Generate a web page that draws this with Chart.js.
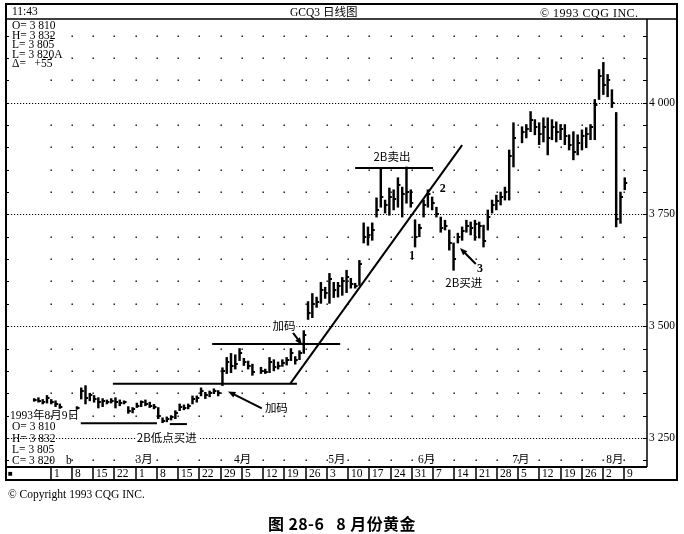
<!DOCTYPE html>
<html lang="zh-CN">
<head>
<meta charset="utf-8">
<title>GCQ3 日线图</title>
<script src="https://cdn.jsdelivr.net/npm/chart.js@4.4.1/dist/chart.umd.min.js"></script>
<style>
  body { margin: 0; background: #fff; }
  #wrap { position: relative; width: 684px; height: 534px; overflow: hidden; }
  #c { position: absolute; left: 0; top: 0; }
  .t { position: absolute; font-family: "Liberation Serif", "Noto Sans CJK SC", serif; color: #000; line-height: 1; white-space: pre; }
  .cn { font-family: "Noto Sans CJK SC", sans-serif; }
</style>
</head>
<body>
<div id="wrap">
  <canvas id="c" width="684" height="534"></canvas>

  <div class="t" style="left:12px;top:6px;font-size:11.5px">11:43</div>
  <div class="t" style="left:290px;top:6px;font-size:11.5px">GCQ3 <span class="cn">日线图</span></div>
  <div class="t" style="left:540px;top:7px;font-size:12px;letter-spacing:0.5px">© 1993 CQG INC.</div>

  <div class="t" style="left:12px;top:20px;font-size:11.5px">O= 3 810</div>
  <div class="t" style="left:12px;top:29.5px;font-size:11.5px">H= 3 832</div>
  <div class="t" style="left:12px;top:39px;font-size:11.5px">L= 3 805</div>
  <div class="t" style="left:12px;top:48.5px;font-size:11.5px">L= 3 820A</div>
  <div class="t" style="left:12px;top:58px;font-size:11.5px">Δ=   +55</div>

  <div class="t" style="left:10px;top:409px;font-size:11.5px">1993<span class="cn">年</span>8<span class="cn">月</span>9<span class="cn">日</span></div>
  <div class="t" style="left:12px;top:421px;font-size:11.5px">O= 3 810</div>
  <div class="t" style="left:12px;top:433px;font-size:11.5px">H= 3 832</div>
  <div class="t" style="left:12px;top:444px;font-size:11.5px">L= 3 805</div>
  <div class="t" style="left:12px;top:455px;font-size:11.5px">C= 3 820</div>
  <div class="t" style="left:66px;top:455px;font-size:11.5px">b</div>
  <div class="t" style="left:8px;top:470px;font-size:8px">■</div>

  <div class="t" style="left:8px;top:489px;font-size:11.5px">© Copyright 1993 CQG INC.</div>
  <div class="t cn" style="left:268px;top:515px;font-size:16px;font-weight:600;letter-spacing:0.4px">图 28-6   8 月份黄金</div>
</div>

<script>
// 交易日序号: 1993-02-01(星期一) = 0, 每周 5 格
const firstDay = -3;

const highs = [
  3338, 3340, 3336,
  3345, 3336, 3333, 3326, null,
  null, null, 3320, 3362, 3367,
  3350, 3345, 3340, 3338, 3335,
  3338, 3340, 3335, 3333, 3320,
  3318, 3328, 3333, 3335, 3330,
  3325, 3318, 3295, 3297, 3300,
  3311, 3326, 3324, 3326, 3344,
  3344, 3362, 3352, 3355, 3360,
  3356, 3407, 3430, 3439, 3436,
  3450, 3428, 3422, 3415, null,
  3408, 3404, 3430, 3425, 3420,
  3425, 3430, 3450, 3432, 3445,
  3490, 3555, 3573, 3565, 3598,
  3587, 3618, 3598, 3598, 3609,
  3625, 3607, 3596, 3647, 3731,
  3722, 3731, 3787, 3854, 3782,
  3809, 3805, 3832, 3811, 3856,
  3805, 3738, 3728, 3782, 3805,
  3789, 3766, 3744, 3737, 3715,
  3686, 3708, 3722, 3737, 3733,
  3737, 3733, 3726, 3760, 3782,
  3793, 3800, 3811, 3894, 3955,
  null, 3946, 3951, 3980, 3962,
  3955, 3966, 3966, 3962, 3957,
  3951, 3951, 3928, 3935, 3928,
  3939, 3944, 3951, 4007, 4074,
  4090, 4063, 4029, 3978, 3800,
  3832
];

const lows = [
  3332, 3330, 3326,
  3328, 3326, 3320, 3316, null,
  null, null, 3314, 3337, 3326,
  3333, 3330, 3317, 3320, 3326,
  3328, 3317, 3322, 3326, 3305,
  3306, 3318, 3320, 3322, 3318,
  3315, 3293, 3284, 3286, 3290,
  3293, 3311, 3313, 3315, 3326,
  3330, 3344, 3338, 3342, 3349,
  3344, 3367, 3394, 3396, 3404,
  3423, 3412, 3404, 3390, null,
  3394, 3394, 3396, 3400, 3404,
  3410, 3413, 3423, 3415, 3425,
  3439, 3515, 3519, 3542, 3551,
  3562, 3551, 3564, 3565, 3569,
  3575, 3585, 3585, 3591, 3686,
  3681, 3692, 3744, 3766, 3753,
  3748, 3760, 3766, 3744, 3775,
  3766, 3677, 3700, 3744, 3766,
  3760, 3744, 3710, 3715, 3670,
  3625, 3686, 3692, 3710, 3704,
  3692, 3697, 3677, 3715, 3753,
  3760, 3771, 3782, 3782, 3856,
  null, 3910, 3921, 3935, 3928,
  3906, 3912, 3883, 3917, 3912,
  3917, 3906, 3894, 3872, 3883,
  3894, 3899, 3917, 3917, 4007,
  4018, 4013, 3989, 3722, 3730,
  3805
];

const closes = [
  3335, 3333, 3330,
  3340, 3330, 3325, 3320, null,
  null, null, 3317, 3355, 3340,
  3345, 3338, 3330, 3332, 3330,
  3333, 3330, 3328, 3330, 3310,
  3314, 3322, 3330, 3326, 3322,
  3320, 3298, 3288, 3292, 3296,
  3306, 3320, 3318, 3322, 3338,
  3340, 3355, 3345, 3350, 3355,
  3350, 3400, 3420, 3410, 3415,
  3440, 3420, 3410, 3398, null,
  3400, 3398, 3420, 3408, 3412,
  3418, 3425, 3440, 3425, 3440,
  3480, 3530, 3550, 3555, 3580,
  3575, 3605, 3580, 3590, 3600,
  3610, 3595, 3590, 3640, 3700,
  3705, 3715, 3760, 3790, 3770,
  3790, 3785, 3815, 3795, 3800,
  3775, 3700, 3720, 3770, 3795,
  3775, 3750, 3720, 3725, 3685,
  3650, 3700, 3712, 3725, 3720,
  3728, 3725, 3690, 3745, 3770,
  3780, 3790, 3800, 3880, 3920,
  null, 3935, 3940, 3960, 3945,
  3930, 3945, 3920, 3945, 3935,
  3940, 3925, 3905, 3890, 3910,
  3925, 3930, 3945, 3995, 4060,
  4040, 4050, 4000, 3740, 3790,
  3820
];

// 底部日期栏与月份
const weekLabels = ['1','8','15','22','1','8','15','22','29','5','12','19','26','3','10','17','24','31','7','14','21','28','5','12','19','26','2','9'];
const monthLabels = ['3月','4月','5月','6月','7月','8月'];
const monthStartDay = [20, 43, 65, 86, 108, 130];
const priceTicks = [3250, 3500, 3750, 4000];

// 手画的水平线和趋势线 [交易日, 价格]
const drawnLines = [
  [[7.9, 3283], [25.7, 3283]],
  [[28.7, 3281], [32.7, 3281]],
  [[15.4, 3371], [58.4, 3371]],
  [[38.6, 3460], [68.5, 3460]],
  [[72, 3854], [90.2, 3854]],
  [[56.8, 3371], [97, 3905]]
];
// 箭头 [尾, 头]
const arrows = [
  [[50.2, 3316], [42.3, 3354]],
  [[57.5, 3485], [59.6, 3458]],
  [[100.2, 3639], [96.5, 3675]]
];
// 文字标注 [文字, 交易日, 价格]
const notes = [
  ['2B卖出', 80.6, 3878],
  ['加码', 55.4, 3500],
  ['加码', 53.6, 3317],
  ['2B低点买进', 28, 3250],
  ['2B买进', 97.4, 3596]
];
const numNotes = [
  ['1', 85.3, 3659],
  ['2', 92.5, 3809],
  ['3', 101.2, 3630]
];

const weekDivider = w => 0.86 + w * 4.965;
const fmtPrice = v => String(v).replace(/(\d)(\d{3})$/, '$1 $2');

const bars = [];
const closeMarks = [];
highs.forEach((h, i) => {
  if (h == null) return;
  const d = firstDay + i;
  bars.push({ x: d, y: [lows[i], h] });
  closeMarks.push({ x: d, y: closes[i] });
});

// 收盘价的小横线
const closeTick = document.createElement('canvas');
closeTick.width = 7;
closeTick.height = 2;
const ctg = closeTick.getContext('2d');
ctg.fillStyle = '#000';
ctg.fillRect(3, 0, 3, 2);

const frame = {
  id: 'frame',
  beforeDatasetsDraw(chart) {
    const { ctx, chartArea: a, scales: { x, y } } = chart;
    ctx.save();
    ctx.fillStyle = '#000';
    for (let p = 3200; p <= 4150; p += 50) {
      const py = Math.round(y.getPixelForValue(p));
      ctx.fillRect(a.left, py, 4, 1);
      ctx.fillRect(a.right - 4, py, 4, 1);
      if (priceTicks.includes(p)) continue;
      weekLabels.forEach((_, w) => {
        const px = Math.round(x.getPixelForValue(weekDivider(w)));
        ctx.fillRect(px - 0.5, py - 0.5, 1.4, 1.4);
      });
    }
    ctx.strokeStyle = '#000';
    ctx.lineWidth = 1;
    ctx.setLineDash([1.2, 1.8]);
    priceTicks.forEach(p => {
      const py = Math.round(y.getPixelForValue(p)) + 0.5;
      ctx.beginPath();
      ctx.moveTo(a.left + 3, py);
      ctx.lineTo(a.right, py);
      ctx.stroke();
    });
    ctx.restore();
  },
  afterDraw(chart) {
    const { ctx, chartArea: a, scales: { x, y } } = chart;
    ctx.save();
    ctx.strokeStyle = '#000';
    ctx.fillStyle = '#000';

    // 外框
    ctx.lineWidth = 2;
    ctx.strokeRect(6, 4, 671, 476);
    ctx.lineWidth = 1.5;
    ctx.beginPath();
    ctx.moveTo(5, a.top); ctx.lineTo(677, a.top);
    ctx.moveTo(a.right, a.top); ctx.lineTo(a.right, a.bottom);
    ctx.stroke();
    ctx.lineWidth = 2;
    ctx.beginPath();
    ctx.moveTo(5, a.bottom); ctx.lineTo(a.right, a.bottom);
    ctx.stroke();

    // 日期栏分隔线
    ctx.lineWidth = 1.5;
    weekLabels.forEach((_, w) => {
      const px = Math.round(x.getPixelForValue(weekDivider(w)));
      ctx.beginPath();
      ctx.moveTo(px, a.bottom);
      ctx.lineTo(px, 480);
      ctx.stroke();
    });

    // 箭头
    arrows.forEach(([t, h]) => {
      const x1 = x.getPixelForValue(t[0]), y1 = y.getPixelForValue(t[1]);
      const x2 = x.getPixelForValue(h[0]), y2 = y.getPixelForValue(h[1]);
      const ang = Math.atan2(y2 - y1, x2 - x1);
      ctx.lineWidth = 2;
      ctx.beginPath();
      ctx.moveTo(x1, y1);
      ctx.lineTo(x2 - 5 * Math.cos(ang), y2 - 5 * Math.sin(ang));
      ctx.stroke();
      ctx.beginPath();
      ctx.moveTo(x2, y2);
      ctx.lineTo(x2 - 8 * Math.cos(ang - 0.38), y2 - 8 * Math.sin(ang - 0.38));
      ctx.lineTo(x2 - 8 * Math.cos(ang + 0.38), y2 - 8 * Math.sin(ang + 0.38));
      ctx.closePath();
      ctx.fill();
    });
    ctx.restore();
  }
};

const lineSets = drawnLines.map(seg => ({
  type: 'line',
  data: seg.map(([d, p]) => ({ x: d, y: p })),
  borderColor: '#000',
  borderWidth: 2,
  pointRadius: 0,
  fill: false
}));

const chart = new Chart(document.getElementById('c'), {
  type: 'scatter',
  data: {
    datasets: [
      ...lineSets,
      {
        type: 'scatter',
        data: closeMarks,
        pointStyle: closeTick,
        pointRadius: 3
      },
      {
        type: 'bar',
        data: bars,
        backgroundColor: '#000',
        borderWidth: 0,
        barThickness: 1.8
      }
    ]
  },
  options: {
    responsive: false,
    animation: false,
    events: [],
    layout: { padding: { left: 5, top: 19, right: 0, bottom: 67 } },
    plugins: { legend: { display: false }, tooltip: { enabled: false } },
    scales: {
      x: {
        type: 'linear',
        display: false,
        offset: false,
        min: -9.81,
        max: 140.2
      },
      y: {
        position: 'right',
        min: 3185,
        max: 4187,
        afterBuildTicks: s => { s.ticks = priceTicks.map(v => ({ value: v })); },
        afterFit: s => { s.width = 37; },
        grid: { display: false, drawTicks: false },
        border: { display: false },
        ticks: {
          padding: 2,
          color: '#000',
          font: { family: 'Liberation Serif', size: 11.5 },
          callback: v => fmtPrice(v)
        }
      }
    }
  },
  plugins: [frame]
});

// 图内文字
const wrap = document.getElementById('wrap');
function addText(txt, left, top, css) {
  const el = document.createElement('div');
  el.className = 't';
  el.textContent = txt;
  el.style.left = left + 'px';
  el.style.top = top + 'px';
  Object.assign(el.style, css || {});
  wrap.appendChild(el);
  return el;
}

const xs = chart.scales.x, ys = chart.scales.y;
notes.forEach(([txt, d, p]) => {
  addText(txt, xs.getPixelForValue(d), ys.getPixelForValue(p), {
    fontFamily: '"Noto Sans CJK SC", sans-serif',
    fontSize: '11.5px',
    transform: 'translate(-50%, -50%)',
    background: '#fff',
    padding: '0 1px'
  });
});
numNotes.forEach(([txt, d, p]) => {
  addText(txt, xs.getPixelForValue(d), ys.getPixelForValue(p), {
    fontSize: '12px',
    fontWeight: 'bold',
    transform: 'translate(-50%, -50%)'
  });
});
weekLabels.forEach((lab, w) => {
  addText(lab, Math.round(xs.getPixelForValue(weekDivider(w))) + 3, 468, { fontSize: '11.5px' });
});
monthLabels.forEach((lab, i) => {
  addText(lab, xs.getPixelForValue(monthStartDay[i]) + 3, 454, {
    fontSize: '11.5px',
    fontFamily: '"Liberation Serif", "Noto Sans CJK SC", serif'
  });
});
</script>
</body>
</html>
